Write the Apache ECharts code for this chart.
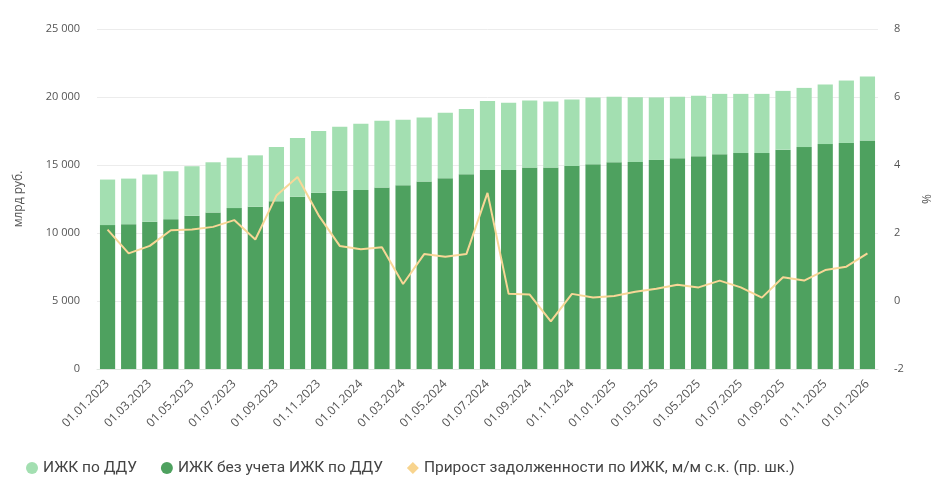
<!DOCTYPE html>
<html>
<head>
<meta charset="utf-8">
<script src="https://cdn.jsdelivr.net/npm/echarts@6/dist/echarts.min.js"></script>
<style>
  html, body { margin: 0; padding: 0; background: #fff; }
  #chart { width: 947px; height: 483px; }
</style>
</head>
<body>
<div id="chart"></div>
<script>
// даты на начало месяца, 01.01.2023 - 01.01.2026
var months = [];
for (var y = 2023; y <= 2026; y++) {
  for (var m = 1; m <= 12; m++) {
    if (y == 2026 && m > 1) break;
    months.push('01.' + (m < 10 ? '0' + m : m) + '.' + y);
  }
}

// ИЖК без учета ИЖК по ДДУ, млрд руб.
var withoutDdu = [10580, 10650, 10830, 11020, 11270, 11510, 11830, 11930, 12340, 12660,
  12950, 13100, 13170, 13340, 13510, 13780, 14030, 14320, 14640, 14640,
  14810, 14810, 14930, 15050, 15200, 15220, 15370, 15490, 15640, 15790,
  15880, 15880, 16130, 16320, 16540, 16620, 16810];

// итого ИЖК (вершина столбца), млрд руб.
var totalIzhk = [13930, 14000, 14300, 14540, 14910, 15200, 15540, 15710, 16320, 16980,
  17500, 17820, 18030, 18260, 18330, 18500, 18840, 19110, 19700, 19570,
  19750, 19670, 19820, 19970, 20010, 19990, 19970, 20010, 20090, 20230,
  20230, 20230, 20450, 20670, 20920, 21210, 21500];

// ИЖК по ДДУ = итого - без ДДУ
var ddu = totalIzhk.map(function (v, i) { return v - withoutDdu[i]; });

// Прирост задолженности по ИЖК, м/м с.к., %
var growth = [2.1, 1.4, 1.62, 2.08, 2.1, 2.18, 2.38, 1.81, 3.1, 3.65,
  2.52, 1.62, 1.52, 1.58, 0.5, 1.38, 1.3, 1.38, 3.18, 0.21,
  0.19, -0.6, 0.21, 0.1, 0.15, 0.27, 0.36, 0.48, 0.4, 0.6,
  0.4, 0.1, 0.7, 0.6, 0.91, 1.01, 1.4];

var chart = echarts.init(document.getElementById('chart'));

var option = {
  backgroundColor: '#fff',
  animation: false,
  grid: { left: 97, right: 69, top: 29, bottom: 114 },
  legend: {
    left: 21,
    top: 455,
    itemWidth: 12,
    itemHeight: 12,
    itemGap: 24,
    textStyle: { color: '#444', fontSize: 15.5, fontFamily: 'Liberation Sans Narrow, Roboto, sans-serif' },
    data: [
      { name: 'ИЖК по ДДУ', icon: 'circle' },
      { name: 'ИЖК без учета ИЖК по ДДУ', icon: 'circle' },
      { name: 'Прирост задолженности по ИЖК, м/м с.к. (пр. шк.)', icon: 'diamond' }
    ]
  },
  xAxis: {
    type: 'category',
    data: months,
    axisTick: { show: false },
    axisLine: { lineStyle: { color: '#dfe6e0' } },
    axisLabel: {
      interval: 1,
      rotate: 45,
      color: '#555',
      fontSize: 12,
      fontFamily: 'Open Sans, sans-serif',
      margin: 13
    }
  },
  yAxis: [
    {
      type: 'value',
      min: 0,
      max: 25000,
      interval: 5000,
      name: 'млрд руб.',
      nameLocation: 'middle',
      nameGap: 72,
      nameTextStyle: { color: '#555', fontSize: 12, fontFamily: 'Open Sans, sans-serif' },
      axisLabel: {
        color: '#555',
        fontSize: 11,
        fontFamily: 'Open Sans, sans-serif',
        margin: 17,
        formatter: function (v) { return String(v).replace(/\B(?=(\d{3})+(?!\d))/g, ' '); }
      },
      splitLine: { lineStyle: { color: '#ececec' } }
    },
    {
      type: 'value',
      min: -2,
      max: 8,
      interval: 2,
      name: '%',
      nameLocation: 'middle',
      nameGap: 44,
      nameTextStyle: { color: '#555', fontSize: 12, fontFamily: 'Open Sans, sans-serif' },
      axisLabel: { color: '#555', fontSize: 11, fontFamily: 'Open Sans, sans-serif', margin: 16 },
      splitLine: { show: false }
    }
  ],
  series: [
    {
      name: 'ИЖК без учета ИЖК по ДДУ',
      type: 'bar',
      stack: 'izhk',
      barWidth: '72%',
      itemStyle: { color: '#4ea15f' },
      data: withoutDdu
    },
    {
      name: 'ИЖК по ДДУ',
      type: 'bar',
      stack: 'izhk',
      barWidth: '72%',
      itemStyle: { color: '#a3dfb1' },
      data: ddu
    },
    {
      name: 'Прирост задолженности по ИЖК, м/м с.к. (пр. шк.)',
      type: 'line',
      yAxisIndex: 1,
      showSymbol: false,
      itemStyle: { color: '#f8d48e' },
      lineStyle: { color: '#f8d797', width: 2 },
      data: growth
    }
  ]
};

chart.setOption(option);
</script>
</body>
</html>
